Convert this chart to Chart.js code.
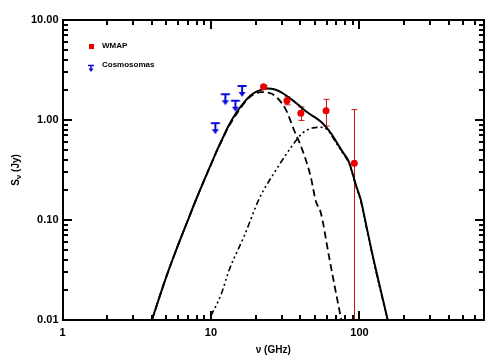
<!DOCTYPE html>
<html><head><meta charset="utf-8">
<script src="https://cdn.jsdelivr.net/npm/chart.js@4/dist/chart.umd.min.js"></script>
<style>html,body{margin:0;padding:0;background:#fff;}#wrap{width:504px;height:360px;}</style>
</head><body><div id="wrap"><canvas id="c" width="504" height="360"></canvas></div>
<script>
// ---- data ----
const totalNu = [4.0, 5, 6, 7, 8, 9, 10, 11, 12, 13, 14.8, 17.2, 19, 21.2, 24, 27, 30, 35, 40, 45, 50.8, 55, 59.3, 65, 69.2, 77, 85, 95, 102, 110, 122, 135, 155];
const totalS  = [0.01, 0.027, 0.056, 0.10, 0.165, 0.25, 0.36, 0.50, 0.66, 0.85, 1.18, 1.58, 1.82, 1.98, 2.07, 2.02, 1.88, 1.60, 1.36, 1.18, 1.05, 0.96, 0.86, 0.72, 0.62, 0.48, 0.38, 0.22, 0.16, 0.095, 0.046, 0.024, 0.01];

const spinNu = [4.0, 5, 6, 7, 8, 9, 10, 11, 12, 13, 14.8, 16, 18.1, 21.7, 24.7, 28.1, 32, 36.3, 41.3, 47, 50.8, 55, 62.4, 68, 75.5];
const spinS  = [0.01, 0.027, 0.056, 0.10, 0.165, 0.25, 0.36, 0.50, 0.65, 0.83, 1.14, 1.35, 1.68, 1.90, 1.87, 1.65, 1.26, 0.79, 0.50, 0.27, 0.155, 0.117, 0.043, 0.022, 0.01];

const dustNu = [10, 11.7, 13.3, 16.8, 21.2, 27.4, 33.6, 41.3, 48.2, 55, 60.8, 69.2, 77, 85, 95, 102, 110, 122, 135, 155];
const dustS  = [0.011, 0.018, 0.032, 0.07, 0.165, 0.316, 0.50, 0.74, 0.83, 0.845, 0.80, 0.60, 0.47, 0.37, 0.215, 0.155, 0.092, 0.045, 0.023, 0.01];

const wmapNu  = [22.6, 32.5, 40.3, 59.6, 92.3];
const wmapS   = [2.15, 1.56, 1.17, 1.24, 0.37];
const wmapErr = [0.06, 0.14, 0.18, 0.37, 0.90];

const cosmoNu = [10.7, 12.5, 14.6, 16.2];
const cosmoS  = [0.93, 1.81, 1.56, 2.19];

const xTickValues = [1, 10, 100];
const yTickValues = [0.01, 0.1, 1, 10];
const xMinorTicks = [2,3,4,5,6,7,8,9,20,30,40,50,60,70,80,90,200,300,400,500,600];
const yMinorTicks = [0.02,0.03,0.04,0.05,0.06,0.07,0.08,0.09,0.2,0.3,0.4,0.5,0.6,0.7,0.8,0.9,2,3,4,5,6,7,8,9];

const legendLabels = ['WMAP', 'Cosmosomas'];

const pts = (xs, ys) => xs.map((x, i) => ({x: x, y: ys[i]}));

const RED = '#ee0000', ERR = '#c01818', BLUE = '#0a0ad8';

// upper-limit marker image (bar at centre, arrow pointing down)
function makeLimit() {
  const c = document.createElement('canvas');
  c.width = 12; c.height = 26;
  const g = c.getContext('2d');
  const cx = 6, cy = 13;
  g.strokeStyle = BLUE; g.fillStyle = BLUE; g.lineWidth = 2;
  g.beginPath(); g.moveTo(cx-4.5, cy); g.lineTo(cx+4.5, cy); g.stroke();
  g.beginPath(); g.moveTo(cx, cy); g.lineTo(cx, cy+8); g.stroke();
  g.beginPath(); g.moveTo(cx-3.5, cy+6); g.lineTo(cx+3.5, cy+6); g.lineTo(cx, cy+11); g.closePath(); g.fill();
  return c;
}
const limitImg = makeLimit();

const framePlugin = {
  id: 'frame',
  beforeDatasetsDraw(chart) {
    const {ctx, chartArea: a, scales: {x, y}} = chart;
    ctx.save();
    ctx.setLineDash([]);
    ctx.strokeStyle = ERR; ctx.lineWidth = 1;
    wmapNu.forEach((nu, i) => {
      const px = Math.round(x.getPixelForValue(nu)) + 0.5;
      const hi = wmapS[i] + wmapErr[i], lo = wmapS[i] - wmapErr[i];
      const pyHi = y.getPixelForValue(hi);
      const pyLo = lo > 0 ? Math.min(y.getPixelForValue(lo), a.bottom) : a.bottom;
      ctx.beginPath(); ctx.moveTo(px, pyHi); ctx.lineTo(px, pyLo); ctx.stroke();
      ctx.beginPath(); ctx.moveTo(px-3, pyHi); ctx.lineTo(px+3, pyHi); ctx.stroke();
      if (lo > 0) { ctx.beginPath(); ctx.moveTo(px-3, pyLo); ctx.lineTo(px+3, pyLo); ctx.stroke(); }
    });
    ctx.restore();
  },
  afterDraw(chart) {
    const {ctx, chartArea: a, scales: {x, y}} = chart;
    ctx.save();
    ctx.setLineDash([]);
    ctx.fillStyle = '#000';
    const L = Math.round(a.left), R = Math.round(a.right), T = Math.round(a.top), B = Math.round(a.bottom);
    const tx = (v, len) => {
      const px = Math.round(x.getPixelForValue(v));
      ctx.fillRect(px - 1, B - len, 2, len);
      ctx.fillRect(px - 1, T, 2, len);
    };
    const ty = (v, len) => {
      const py = Math.round(y.getPixelForValue(v));
      ctx.fillRect(L, py - 1, len, 2);
      ctx.fillRect(R - len, py - 1, len, 2);
    };
    xTickValues.forEach(v => tx(v, 9));
    xMinorTicks.forEach(v => tx(v, 5));
    yTickValues.forEach(v => ty(v, 9));
    yMinorTicks.forEach(v => ty(v, 5));
    // frame
    ctx.fillRect(L - 1, T - 1, R - L + 2, 2);
    ctx.fillRect(L - 1, B - 1, R - L + 2, 2);
    ctx.fillRect(L - 1, T - 1, 2, B - T + 2);
    ctx.fillRect(R - 1, T - 1, 2, B - T + 2);

    // axis titles
    ctx.fillStyle = '#000';
    ctx.textAlign = 'center'; ctx.textBaseline = 'middle';
    ctx.font = 'bold 10px "Liberation Sans", Arial, sans-serif';
    ctx.fillText('\u03bd (GHz)', (a.left + a.right)/2, 350);
    ctx.save();
    ctx.translate(16, 170); ctx.rotate(-Math.PI/2);
    ctx.textAlign = 'left';
    const s1 = 'S', s2 = '\u03bd', s3 = ' (Jy)';
    const w1 = ctx.measureText(s1).width;
    ctx.font = 'bold 8px "Liberation Sans", Arial, sans-serif';
    const w2 = ctx.measureText(s2).width;
    ctx.font = 'bold 10px "Liberation Sans", Arial, sans-serif';
    const w3 = ctx.measureText(s3).width;
    let sx = -(w1 + w2 + w3)/2;
    ctx.fillText(s1, sx, 0); sx += w1;
    ctx.font = 'bold 8px "Liberation Sans", Arial, sans-serif';
    ctx.fillText(s2, sx, 3); sx += w2;
    ctx.font = 'bold 10px "Liberation Sans", Arial, sans-serif';
    ctx.fillText(s3, sx, 0);
    ctx.restore();

    // legend
    ctx.font = 'bold 8px "Liberation Sans", Arial, sans-serif';
    ctx.textAlign = 'left';
    ctx.fillStyle = RED;
    ctx.fillRect(89, 44, 5, 5);
    ctx.fillStyle = '#000';
    ctx.fillText(legendLabels[0], 102, 46);
    ctx.strokeStyle = BLUE; ctx.fillStyle = BLUE; ctx.lineWidth = 1.5;
    ctx.beginPath(); ctx.moveTo(88, 65.5); ctx.lineTo(94, 65.5); ctx.moveTo(91, 65.5); ctx.lineTo(91, 70); ctx.stroke();
    ctx.beginPath(); ctx.moveTo(88.5, 68.5); ctx.lineTo(93.5, 68.5); ctx.lineTo(91, 72); ctx.closePath(); ctx.fill();
    ctx.fillStyle = '#000';
    ctx.fillText(legendLabels[1], 102, 65);
    ctx.restore();
  }
};

const tickFont = {family: '"Liberation Sans", Arial, sans-serif', size: 11, weight: 'bold'};

new Chart(document.getElementById('c'), {
  type: 'line',
  data: {
    datasets: [
      {label: 'WMAP', type: 'scatter', data: pts(wmapNu, wmapS), pointStyle: 'circle', pointRadius: 3.5,
       backgroundColor: RED, borderColor: RED, borderWidth: 0, showLine: false},
      {label: 'Cosmosomas', type: 'scatter', data: pts(cosmoNu, cosmoS), pointStyle: limitImg, showLine: false},
      {label: 'total', data: pts(totalNu, totalS), borderColor: '#000', borderWidth: 2, pointRadius: 0,
       cubicInterpolationMode: 'monotone', fill: false},
      {label: 'spinning', data: pts(spinNu, spinS), borderColor: '#000', borderWidth: 1.8, borderDash: [7, 4], pointRadius: 0,
       cubicInterpolationMode: 'monotone', fill: false},
      {label: 'thermal', data: pts(dustNu, dustS), borderColor: '#000', borderWidth: 1.6, borderDash: [6, 3, 2, 3, 2, 3, 2, 3], pointRadius: 0,
       cubicInterpolationMode: 'monotone', fill: false}
    ]
  },
  options: {
    responsive: false, animation: false, devicePixelRatio: 1,
    layout: {padding: {left: 0, top: 20, right: 20, bottom: 0}},
    plugins: {legend: {display: false}, tooltip: {enabled: false}},
    scales: {
      x: {type: 'logarithmic', min: 1, max: 690,
          grid: {display: false, drawTicks: false}, border: {display: false},
          afterBuildTicks: s => { s.ticks = xTickValues.map(v => ({value: v})); },
          afterFit: s => { s.height = 40; },
          ticks: {font: tickFont, color: '#000', padding: 6, maxRotation: 0, autoSkip: false,
                  callback: v => String(v)}},
      y: {type: 'logarithmic', min: 0.01, max: 10,
          grid: {display: false, drawTicks: false}, border: {display: false},
          afterBuildTicks: s => { s.ticks = yTickValues.map(v => ({value: v})); },
          afterFit: s => { s.width = 62.5; },
          ticks: {font: tickFont, color: '#000', padding: 4, autoSkip: false,
                  callback: v => Number(v).toFixed(2)}}
    }
  },
  plugins: [framePlugin]
});
</script></body></html>
